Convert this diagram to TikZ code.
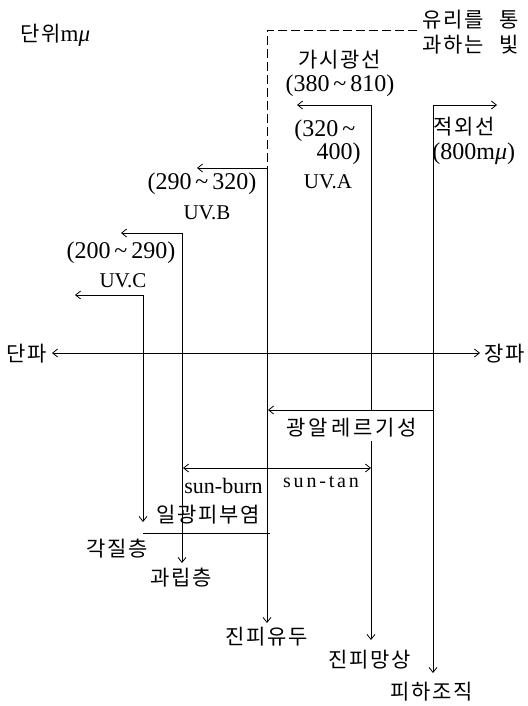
\documentclass[tikz,border=0pt]{standalone}
\usepackage{fontspec}
\setmainfont{Liberation Serif}
\newfontfamily\kr{Noto Sans CJK KR}[LetterSpace=8]
\usetikzlibrary{arrows.meta}
\begin{document}
\begin{tikzpicture}[x=1pt,y=-1pt, line width=0.8pt,
  >={Straight Barb[length=5pt,width=8pt]},
  kt/.style={font=\kr\fontsize{21}{23}\selectfont, inner sep=0pt},
  lt/.style={font=\fontsize{24}{26}\selectfont, inner sep=0pt},
  st/.style={font=\fontsize{21}{23}\selectfont, inner sep=0pt},
  conn/.style={->},
  wire/.style={-},
  glass/.style={dash pattern=on 9pt off 4pt}]
\useasboundingbox (0,0) rectangle (527,706);
% key points
\coordinate (dE) at (417,30);
\coordinate (dC) at (267,30);
\coordinate (aTop) at (267,168);
\coordinate (aL) at (197,168);
\coordinate (aBot) at (267,623);
\coordinate (bTop) at (182,233);
\coordinate (bL) at (121,233);
\coordinate (bBot) at (182,563);
\coordinate (cTop) at (143,295);
\coordinate (cL) at (75,295);
\coordinate (cBot) at (143,522);
\coordinate (vTop) at (371,105);
\coordinate (vL) at (297,105);
\coordinate (vMid) at (371,410);
\coordinate (vRes) at (371,441);
\coordinate (vBot) at (371,640);
\coordinate (iTop) at (433,105);
\coordinate (iR) at (497,105);
\coordinate (iBot) at (433,673);
\coordinate (pR) at (433,410);
\coordinate (pL) at (268,410);
\coordinate (sL) at (183,468);
\coordinate (sR) at (371,468);
\coordinate (eL) at (143,533);
\coordinate (eR) at (270,533);
\coordinate (axL) at (52,353);
\coordinate (axR) at (480,353);
% connectors
\draw[glass] (dE) -- (dC) -- (aTop);
\draw[conn] (aTop) -- (aL);
\draw[conn] (aTop) -- (aBot);
\draw[conn] (bTop) -- (bL);
\draw[conn] (bTop) -- (bBot);
\draw[conn] (cTop) -- (cL);
\draw[conn] (cTop) -- (cBot);
\draw[conn] (vTop) -- (vL);
\draw[wire] (vTop) -- (vMid);
\draw[conn] (vRes) -- (vBot);
\draw[conn] (iTop) -- (iR);
\draw[conn] (iTop) -- (iBot);
\draw[conn] (pR) -- (pL);
\draw[<->] (sL) -- (sR);
\draw[wire] (eL) -- (eR);
\draw[<->] (axL) -- (axR);
% labels
\node[kt, anchor=west] (unit) at (20,35) {단위\fontspec{Liberation Serif}\fontsize{23}{25}\selectfont m\textit{μ}};
\node[kt, anchor=west] (glass1) at (422,20) {유리를 \ \,통};
\node[kt, anchor=west] (glass2) at (422,45) {과하는 \ \,빛};
\node[kt] (vis) at (340,60) {가시광선};
\node[lt] (visr) at (340,86) {(380\,\textasciitilde\,810)};
\node[lt, anchor=west] (uva1) at (294,131) {(320\,\textasciitilde};
\node[lt, anchor=east] (uva2) at (361,154) {400)};
\node[st] (uva3) at (328,182) {UV.A};
\node[kt, anchor=west] (ir) at (433,127) {적외선};
\node[lt, anchor=west] (irr) at (432,154) {(800m\textit{μ})};
\node[lt] (uvbr) at (202,184) {(290\,\textasciitilde\,320)};
\node[st] (uvb) at (207,213) {UV.B};
\node[lt] (uvcr) at (121,253) {(200\,\textasciitilde\,290)};
\node[st] (uvc) at (123,281) {UV.C};
\node[kt, anchor=east] (short) at (47,354) {단파};
\node[kt, anchor=west] (long) at (484,354) {장파};
\node[kt, font=\kr\fontsize{21}{23}\selectfont\addfontfeature{LetterSpace=14}] (photo) at (352,428) {광알레르기성};
\node[st, anchor=west, font=\fontsize{22}{24}\selectfont] (burn) at (184,486) {sun-burn};
\node[st, font=\fontsize{20}{22}\selectfont\addfontfeature{LetterSpace=14}] (tan) at (321,482) {sun-tan};
\node[kt] (derm) at (208,515) {일광피부염};
\node[kt] (corn) at (117,549) {각질층};
\node[kt] (gran) at (181,578) {과립층};
\node[kt] (pap) at (267,637) {진피유두};
\node[kt] (ret) at (370,660) {진피망상};
\node[kt] (sub) at (432,692) {피하조직};
\end{tikzpicture}
\end{document}
